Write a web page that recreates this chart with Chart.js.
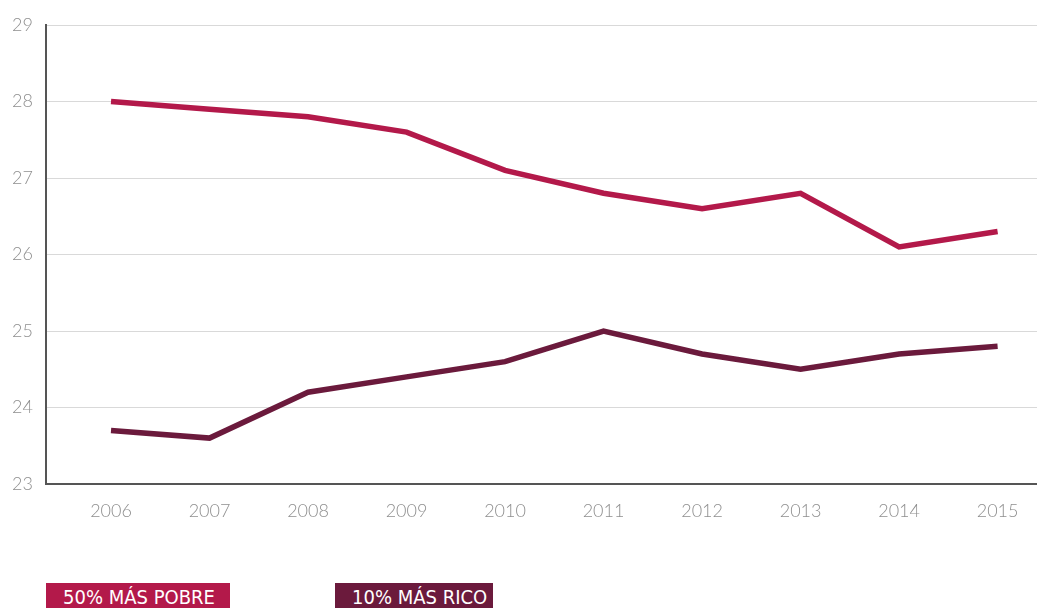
<!DOCTYPE html>
<html>
<head>
<meta charset="utf-8">
<script src="https://cdn.jsdelivr.net/npm/chart.js@4/dist/chart.umd.min.js"></script>
<style>
  body { margin: 0; background: #fff; width: 1037px; height: 608px; overflow: hidden; position: relative; }
  #wrap { position: absolute; left: 0; top: 0; width: 1037px; height: 545px; }
  .tag {
    position: absolute; top: 583px; height: 28px; color: #fff;
    font-family: "DejaVu Sans Condensed", "DejaVu Sans", sans-serif; font-stretch: condensed;
    font-size: 20px; line-height: 28px; padding-left: 17px; box-sizing: border-box;
  }
</style>
</head>
<body>
<div id="wrap"><canvas id="chart"></canvas></div>
<div class="tag" id="tagPoor" style="left:46px;width:184px;background:#b3194a;"></div>
<div class="tag" id="tagRich" style="left:335px;width:158px;background:#6b1a3c;"></div>
<script>
// ---------- DATA ----------
const years = [2006, 2007, 2008, 2009, 2010, 2011, 2012, 2013, 2014, 2015];
const poorest = [28.0, 27.9, 27.8, 27.6, 27.1, 26.8, 26.6, 26.8, 26.1, 26.3];
const richest = [23.7, 23.6, 24.2, 24.4, 24.6, 25.0, 24.7, 24.5, 24.7, 24.8];
const seriesNames = ['50% MÁS POBRE', '10% MÁS RICO'];
const seriesColors = ['#b3194a', '#6b1a3c'];

document.getElementById('tagPoor').textContent = seriesNames[0];
document.getElementById('tagRich').textContent = seriesNames[1];

function toPoints(values) {
    return values.map((v, i) => ({ x: years[i], y: v }));
}

const tickFont = { family: 'Lato, sans-serif', size: 18, weight: 300 };

new Chart(document.getElementById('chart'), {
    type: 'line',
    data: {
        datasets: [
            { label: seriesNames[0], data: toPoints(poorest), borderColor: seriesColors[0], borderWidth: 5.5, pointRadius: 0, tension: 0 },
            { label: seriesNames[1], data: toPoints(richest), borderColor: seriesColors[1], borderWidth: 5.5, pointRadius: 0, tension: 0 }
        ]
    },
    options: {
        responsive: true,
        maintainAspectRatio: false,
        animation: false,
        layout: { padding: { top: 25, right: 0, left: 0, bottom: 0 } },
        plugins: { legend: { display: false }, tooltip: { enabled: false } },
        scales: {
            x: {
                type: 'linear',
                min: 2005.34,
                max: 2015.4,
                afterBuildTicks: scale => { scale.ticks = years.map(y => ({ value: y })); },
                afterFit: scale => { scale.height = 61; },
                ticks: { color: '#8f8f8f', font: tickFont, padding: 16, callback: v => String(v) },
                grid: { display: false, drawTicks: false },
                border: { color: '#555', width: 2 }
            },
            y: {
                min: 23,
                max: 29,
                afterFit: scale => { scale.width = 46; },
                ticks: { stepSize: 1, color: '#8f8f8f', font: tickFont, padding: 13 },
                grid: { color: '#d9d9d9', lineWidth: 1, drawTicks: false },
                border: { color: '#555', width: 2 }
            }
        }
    }
});
</script>
</body>
</html>
